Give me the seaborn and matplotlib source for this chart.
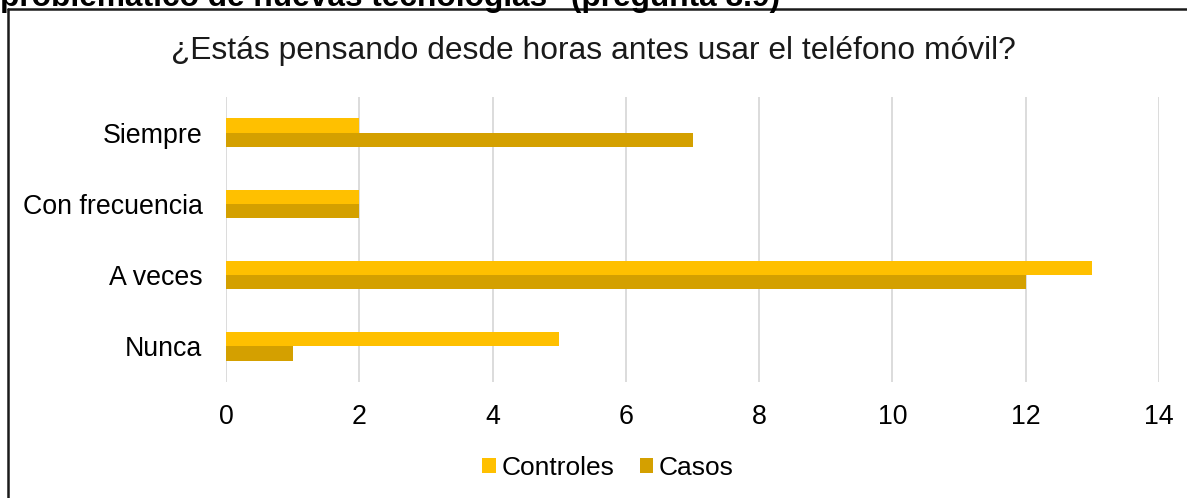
import matplotlib
matplotlib.use("Agg")
import matplotlib.pyplot as plt
import seaborn as sns
import pandas as pd
from matplotlib.lines import Line2D

# Data
respuestas = ['Siempre', 'Con frecuencia', 'A veces', 'Nunca']
grupos = ['Controles', 'Casos']
controles = [2, 2, 13, 5]
casos = [7, 2, 12, 1]
colores = {'Controles': '#FFC000', 'Casos': '#D4A000'}
x_ticks = [0, 2, 4, 6, 8, 10, 12, 14]

df = pd.DataFrame({
    'respuesta': respuestas * 2,
    'grupo': ['Controles'] * len(respuestas) + ['Casos'] * len(respuestas),
    'valor': controles + casos,
})

sns.set_theme(style='white')
plt.rcParams['font.family'] = ['Liberation Sans', 'DejaVu Sans']

fig = plt.figure(figsize=(11.87, 4.98), dpi=100)
ax = fig.add_axes([226 / 1187, 1 - 382 / 498, (1159 - 226) / 1187, (382 - 97) / 498])

sns.barplot(data=df, x='valor', y='respuesta', hue='grupo', order=respuestas,
            hue_order=grupos, palette=colores, width=0.4, orient='h',
            saturation=1, linewidth=0, ax=ax)

ax.set_xlim(0, 14)
ax.set_ylim(3.5, -0.5)
ax.set_xticks(x_ticks)
ax.set_xticklabels([str(t) for t in x_ticks])
ax.grid(axis='x', color='#D9D9D9', linewidth=1.3)
ax.set_axisbelow(True)
for s in ax.spines.values():
    s.set_visible(False)
ax.tick_params(axis='both', length=0, labelsize=19.3, colors='black')
ax.tick_params(axis='y', pad=17)
ax.tick_params(axis='x', pad=16)
ax.set_xlabel('')
ax.set_ylabel('')

handles, labels = ax.get_legend_handles_labels()
ax.legend_.remove()
fig.legend(handles, labels, loc='center', bbox_to_anchor=(608 / 1187, 1 - 468 / 498),
           ncol=2, frameon=False, fontsize=19, handlelength=0.5,
           handleheight=0.5, handletextpad=0.23, columnspacing=0.95,
           labelcolor='black')

fig.text(0.5, 1 - 51 / 498, '¿Estás pensando desde horas antes usar el teléfono móvil?',
         ha='center', va='center', fontsize=22.9, color='#1a1a1a')

# cut-off heading from the surrounding document
fig.text(0.0, 1 - 6 / 498, 'problemático de nuevas tecnologías" (pregunta 8.9)',
         ha='left', va='baseline', fontsize=22.8, fontweight='bold', color='black')

# frame of the chart box
fig.add_artist(Line2D([8 / 1187, 1], [1 - 9 / 498, 1 - 9 / 498],
                      transform=fig.transFigure, color='#1a1a1a', linewidth=1.8))
fig.add_artist(Line2D([8 / 1187, 8 / 1187], [0, 1 - 9 / 498],
                      transform=fig.transFigure, color='#1a1a1a', linewidth=1.8))

fig.savefig('out.png', dpi=100)
